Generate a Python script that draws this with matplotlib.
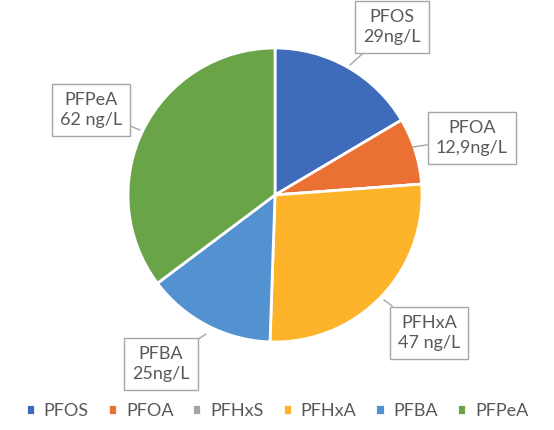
import matplotlib
matplotlib.use("Agg")
import matplotlib.pyplot as plt

# PFAS concentrations (ng/L)
compounds = ["PFOS", "PFOA", "PFHxS", "PFHxA", "PFBA", "PFPeA"]
values = [29, 12.9, 0, 47, 25, 62]
label_texts = ["PFOS\n29ng/L", "PFOA\n12,9ng/L", None, "PFHxA\n47 ng/L", "PFBA\n25ng/L", "PFPeA\n62 ng/L"]
colors = ["#3E6BBA", "#EA7034", "#A5A5A5", "#FDB42B", "#5292D0", "#69A448"]

# Callout box centres and pointer tips (pixel space)
box_xy = [(392, 403), (472, 292), None, (429, 97), (161, 66), (91, 320)]
tip_xy = [(350, 365), (413, 283), None, (384, 130), (206, 96), (140, 300)]

plt.rcParams["font.family"] = ["Lato", "DejaVu Sans"]
fig = plt.figure(figsize=(5.54, 4.30), dpi=100)
ax = fig.add_axes([0, 0, 1, 1])

wedges, _ = ax.pie(values, colors=colors, startangle=90, counterclock=False,
                   center=(275, 235), radius=147, frame=True,
                   wedgeprops=dict(edgecolor="white", linewidth=2))
ax.set_xlim(0, 554)
ax.set_ylim(0, 430)
ax.set_aspect("equal")
ax.axis("off")

for txt, bxy, txy in zip(label_texts, box_xy, tip_xy):
    if txt is None:
        continue
    ax.annotate(txt, xy=txy, xytext=bxy, ha="center", va="center",
                fontsize=13, color="#595959", linespacing=1.35,
                bbox=dict(boxstyle="square,pad=0.45", fc="white", ec="#A6A6A6", lw=1),
                arrowprops=dict(arrowstyle="-", color="#A6A6A6", lw=1,
                                shrinkA=0, shrinkB=0))

leg = ax.legend(wedges, compounds, loc="center", bbox_to_anchor=(277, 19),
                bbox_transform=ax.transData, ncol=6, frameon=False,
                fontsize=13, handlelength=0.5, handleheight=0.5,
                handletextpad=0.5, columnspacing=1.05, labelcolor="#595959")

fig.savefig("out.png", dpi=100)
